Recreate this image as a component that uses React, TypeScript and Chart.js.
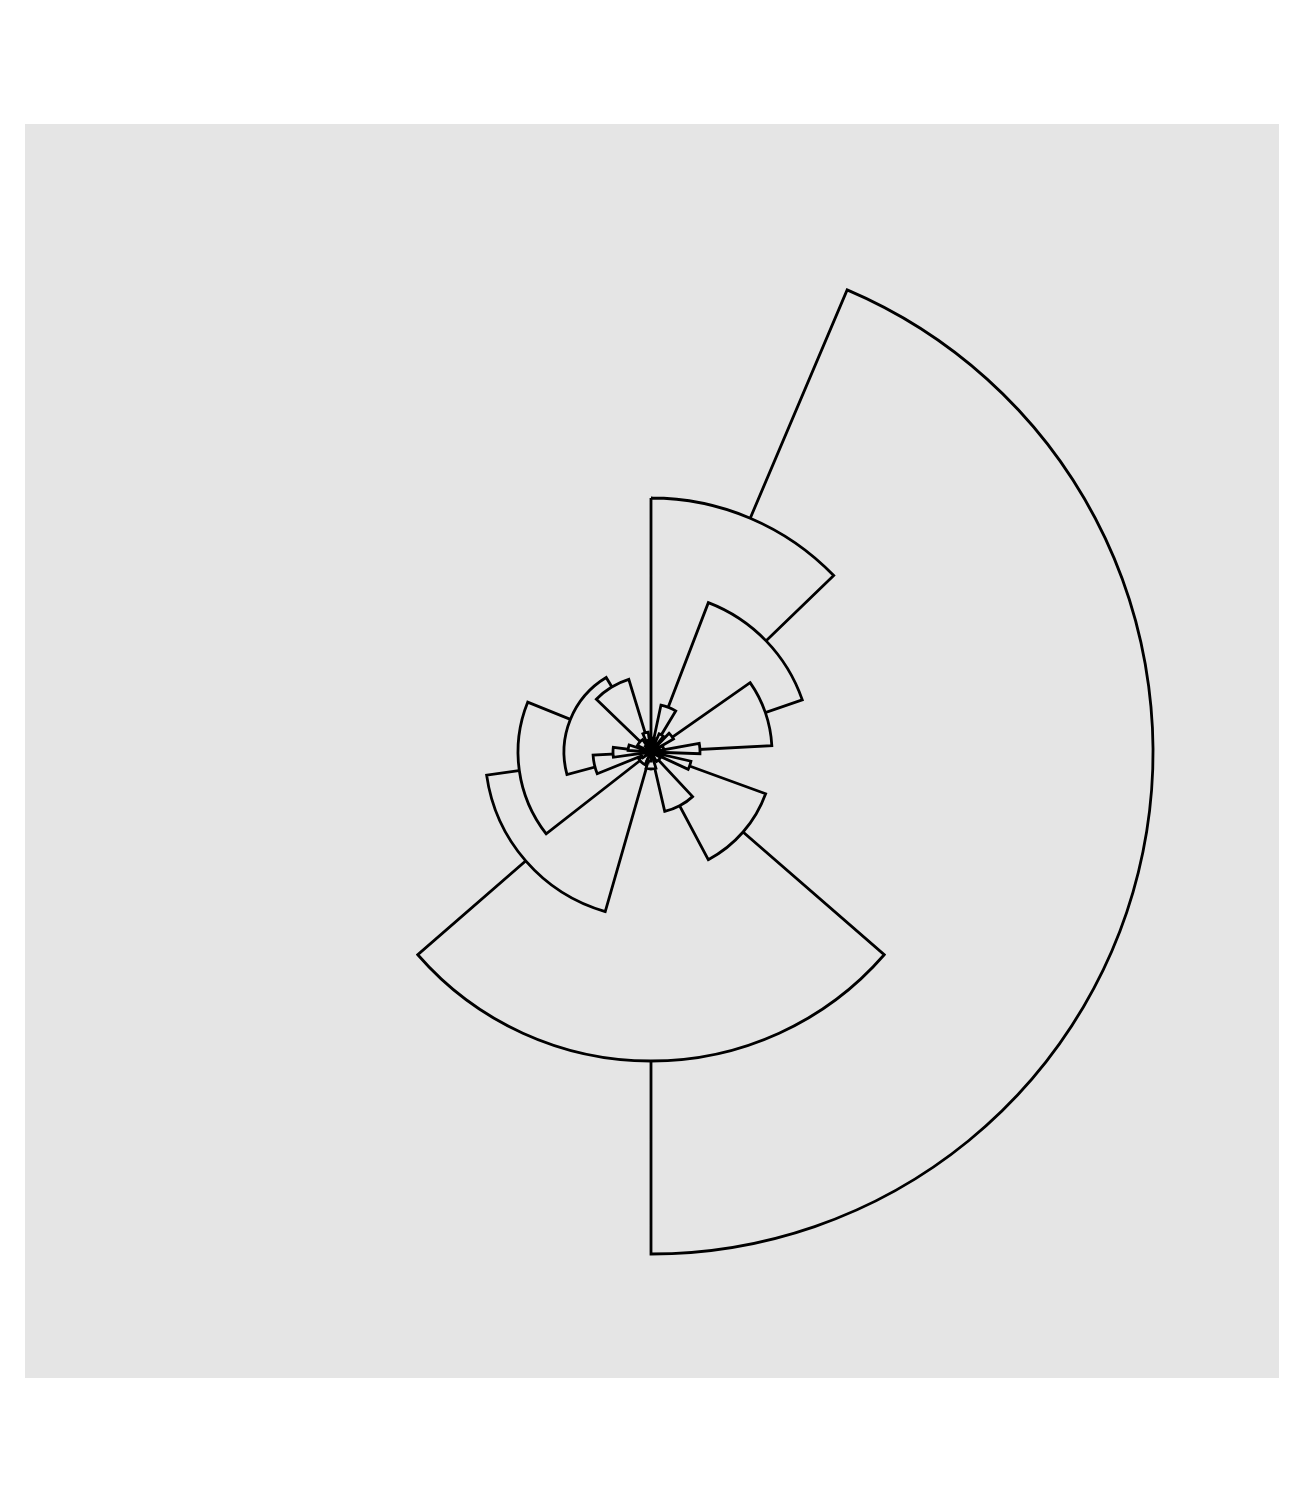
import React, { useEffect, useRef } from 'react';
import { Chart, registerables } from 'chart.js';

Chart.register(...registerables);

// Wedges of the rose: start angle (degrees clockwise from north), angular width, value
const wedgeNames = ['A', 'C', 'B', 'J', 'D', 'K', 'F', 'E', 'L', 'M', 'G', 'N', 'I', 'Q', 'T', 'O', 'R', 'P', 'U', 'V', 'W', 'X', 'Y', 'Z', 'a', 'b', 'c', 'd', 'e', 'f', 'g'];
const wedgeStart = [23, 131, 0, 196, 21, 232, 110, 55, 255, 314, 137, 248, 80, 12, 103, 262, 44, 274, 336, 24, 163, 296, 205, 62, 90, 120, 235, 345, 2, 180, 315];
const wedgeWidth = [157, 98, 46, 66, 50, 60, 42, 32, 74, 29, 30, 19, 12, 19, 12, 15, 16, 14, 16, 14, 34, 30, 35, 18, 14, 30, 25, 15, 12, 25, 20];
const wedgeValue = [502, 309, 254, 166, 160, 133, 122, 121, 87, 76, 61, 58, 49, 48, 41, 38, 26, 23, 20, 20, 17, 15, 14, 13, 12, 11, 10, 12, 14, 9, 8];

const PANEL = '#E5E5E5';
const RADIUS_MAX = 626;

export default function App() {
  const ref = useRef<HTMLCanvasElement>(null);

  useEffect(() => {
    if (!ref.current) return;
    const datasets = wedgeValue.map((v, i) => ({
      label: wedgeNames[i],
      data: [0, v],
      angle: [Math.max(wedgeStart[i], 0.0001), wedgeWidth[i]],
      backgroundColor: ['rgba(0,0,0,0)', PANEL],
      borderColor: '#000000',
      borderWidth: [0, 2.8],
      borderJoinStyle: 'miter',
      borderAlign: 'center',
      order: v,
    }));
    const chart = new Chart(ref.current, {
      type: 'polarArea',
      data: { labels: ['gap', 'wedge'], datasets: datasets as any },
      options: {
        animation: false,
        responsive: false,
        events: [],
        layout: { padding: { left: 0, right: 2, top: 2, bottom: 0 } },
        plugins: { legend: { display: false }, tooltip: { enabled: false } },
        scales: {
          r: { display: false, min: 0, max: RADIUS_MAX, startAngle: 0 },
        },
      } as any,
    });
    return () => chart.destroy();
  }, []);

  return (
    <div style={{ position: 'absolute', left: 0, top: 0, width: 1296, height: 1512, background: '#ffffff' }}>
      <div style={{ position: 'absolute', left: 25, top: 124, width: 1254, height: 1254, background: PANEL }}>
        <canvas ref={ref} width={1254} height={1254} style={{ display: 'block' }} />
      </div>
    </div>
  );
}
